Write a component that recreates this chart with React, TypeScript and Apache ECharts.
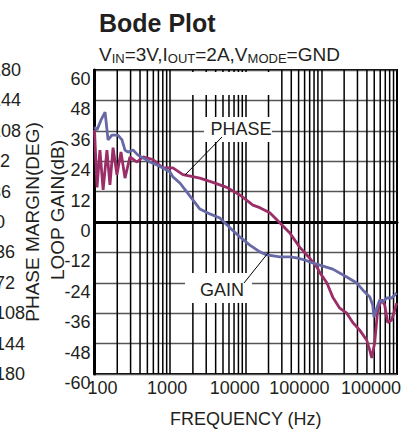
import React, { useEffect, useRef } from "react";
import * as echarts from "echarts";

// ---- tick labels ----
const FREQ_TICKS = [100, 1000, 10000, 100000, 1000000];
const FREQ_TICK_LABELS = ["100", "1000", "10000", "100000", "1000000"];
const PHASE_TICK_LABELS = ["180", "144", "108", "72", "36", "0", "-36", "-72", "-108", "-144", "-180"];
const MINOR_GRID_FREQS = [
  200, 300, 400, 500, 600, 700, 800, 900,
  2000, 3000, 4000, 5000, 6000, 7000, 8000, 9000,
  20000, 30000, 40000, 50000, 60000, 70000, 80000, 90000,
  200000, 300000, 400000, 500000, 600000, 700000, 800000, 900000,
];

// ---- series: loop gain (dB) ----
const GAIN_FREQ = [100, 108, 122, 138, 151, 170, 204, 231, 253, 277, 323, 376, 438, 541, 670, 804, 1000, 1089, 1346, 1667, 2000, 2476, 3357, 4550, 6170, 8360, 11330, 15350, 19000, 28200, 38300, 47300, 60400, 70300, 95300, 141500, 216700, 293800, 352500, 436500, 477800, 497000, 539500, 590600, 647000, 731000, 851000, 991000];
const GAIN_DB = [37.5, 36.3, 40.3, 43.4, 32.4, 34.3, 34.3, 32.4, 28.4, 27.6, 28.4, 26.4, 25.3, 23.7, 22.5, 21.3, 19.7, 17.8, 15.4, 11.8, 8.7, 5.1, 3.2, 1.6, -2.3, -5.9, -9.1, -11.8, -13.0, -13.8, -13.8, -14.2, -15.0, -15.8, -17.0, -18.6, -21.7, -24.1, -26.8, -29.6, -32.8, -37.5, -34.0, -30.8, -31.6, -30.0, -30.0, -28.0];

// ---- series: phase margin (deg) ----
const PHASE_FREQ = [100, 108, 118, 130, 146, 160, 176, 198, 224, 253, 294, 364, 438, 593, 804, 1089, 1476, 2476, 3672, 5620, 8360, 12420, 15350, 20800, 28200, 38300, 51900, 70300, 86900, 95300, 118000, 141500, 175000, 216700, 260000, 321500, 398000, 436500, 463500, 507000, 555500, 628000, 687000, 753000, 851000, 933000, 991000];
const PHASE_DEG = [109, 41, 85, 38, 85, 44, 88, 56, 83, 52, 77, 71, 77, 74, 64, 64, 56, 52, 47, 41, 32, 20, 17, 11, -1, -13, -30, -43, -53, -60, -72, -89, -102, -108, -119, -128, -140, -152, -161, -143, -104, -92, -98, -119, -116, -104, -96];

// ---- styling (label nudges, not data) ----
const FREQ_LABEL_PAD = [[0, 0, 0, 16], [0, 6, 0, 0], [0, 22, 0, 0], [0, 44, 0, 0], [0, 42, 0, 0]];
const PHASE_LABEL_RIGHT: Record<string, number> = {
  "180": 21, "144": 21, "108": 21, "72": 10, "36": 11, "0": 5,
  "-36": 15, "-72": 15, "-108": 25, "-144": 25, "-180": 25,
};

const INK = "#231f20";
const FONT = "'Liberation Sans', Arial, Helvetica, sans-serif";
const GAIN_COLOR = "#6669a6";
const PHASE_COLOR = "#9b2d68";

export default function App() {
  const ref = useRef<HTMLDivElement>(null);

  useEffect(() => {
    if (!ref.current) return;
    const chart = echarts.init(ref.current, undefined, { renderer: "svg" });

    const xRich: Record<string, any> = {};
    FREQ_TICK_LABELS.forEach((_, i) => {
      xRich["x" + i] = { fontSize: 18, color: INK, fontFamily: FONT, padding: FREQ_LABEL_PAD[i] };
    });
    const pRich: Record<string, any> = {};
    PHASE_TICK_LABELS.forEach((lab, i) => {
      pRich["p" + i] = { fontSize: 18, color: INK, fontFamily: FONT, padding: [0, 28 - PHASE_LABEL_RIGHT[lab], 0, 0] };
    });

    const option: any = {
      animation: false,
      backgroundColor: "#ffffff",
      textStyle: { fontFamily: FONT, color: INK },
      title: [
        {
          text: "Bode Plot",
          left: 94,
          top: 5,
          textStyle: { fontSize: 25, fontWeight: "bold", color: INK, fontFamily: FONT },
        },
        {
          text: "{n|V}{s|IN}{n|=3V,I}{s|OUT}{n|=2A,V}{s|MODE}{n|=GND}",
          left: 94,
          top: 40,
          textStyle: {
            fontWeight: "normal",
            rich: {
              n: { fontSize: 19, fontWeight: "normal", color: INK, fontFamily: FONT, verticalAlign: "top", lineHeight: 20 },
              s: { fontSize: 13, fontWeight: "normal", color: INK, fontFamily: FONT, verticalAlign: "bottom", lineHeight: 14, padding: [9, 0, 0, 0] },
            },
          },
        },
      ],
      grid: {
        left: 94.5, right: 4, top: 70, bottom: 56,
        containLabel: false, outerBoundsMode: "none",
        show: true, borderColor: "#000", borderWidth: 2, backgroundColor: "transparent",
      },
      xAxis: {
        type: "log",
        logBase: 10,
        min: 100,
        max: 1000000,
        name: "FREQUENCY (Hz)",
        nameLocation: "middle",
        nameGap: 36,
        nameMoveOverlap: false,
        nameTextStyle: { fontSize: 18, color: INK, fontFamily: FONT },
        axisLine: { show: true, lineStyle: { color: "#000", width: 3 } },
        axisTick: { show: false },
        splitLine: { show: true, lineStyle: { color: "#000", width: 1.5 } },
        axisLabel: {
          interval: 0,
          showMinLabel: true,
          showMaxLabel: true,
          margin: 5,
          formatter: (v: number) => {
            const i = FREQ_TICKS.findIndex((t) => Math.abs(Math.log10(t) - Math.log10(v)) < 1e-6);
            return i < 0 ? "" : `{x${i}|${FREQ_TICK_LABELS[i]}}`;
          },
          rich: xRich,
        },
      },
      yAxis: [
        {
          type: "value",
          min: -60,
          max: 60,
          interval: 12,
          position: "left",
          name: "LOOP GAIN(dB)",
          nameLocation: "middle",
          nameRotate: 90,
          nameGap: 28,
          nameMoveOverlap: false,
          nameTextStyle: { fontSize: 19, color: INK, fontFamily: FONT, padding: [0, 0, 0, 24] },
          axisLine: { show: true, lineStyle: { color: "#000", width: 3 } },
          axisTick: { show: false },
          splitLine: { show: true, lineStyle: { color: "#555", width: 1.4 } },
          axisLabel: { fontSize: 18, margin: 4, color: INK, fontFamily: FONT, verticalAlign: "top" },
        },
        {
          type: "value",
          min: -180,
          max: 180,
          interval: 36,
          position: "left",
          offset: 66.5,
          name: "PHASE MARGIN(DEG)",
          nameLocation: "middle",
          nameRotate: 90,
          nameGap: -14,
          nameMoveOverlap: false,
          nameTextStyle: { fontSize: 19, color: INK, fontFamily: FONT },
          axisLine: { show: false },
          axisTick: { show: false },
          splitLine: { show: false },
          axisLabel: {
            margin: 0,
            formatter: (v: number) => {
              const i = PHASE_TICK_LABELS.indexOf(String(Math.round(v)));
              return i < 0 ? "" : `{p${i}|${PHASE_TICK_LABELS[i]}}`;
            },
            rich: pRich,
          },
        },
      ],
      series: [
        {
          type: "custom",
          name: "minor grid",
          silent: true,
          z: 1,
          xAxisIndex: 0,
          yAxisIndex: 0,
          data: MINOR_GRID_FREQS.map((f) => [f]),
          renderItem: (params: any, api: any) => {
            const f = api.value(0);
            const top = api.coord([f, 60]);
            const bot = api.coord([f, -60]);
            return {
              type: "line",
              shape: { x1: top[0], y1: top[1], x2: bot[0], y2: bot[1] },
              style: { stroke: "#000", lineWidth: 1.5 },
            };
          },
        },
        {
          type: "line",
          name: "PHASE",
          yAxisIndex: 1,
          z: 5,
          symbol: "none",
          data: PHASE_FREQ.map((f, i) => [f, PHASE_DEG[i]]),
          lineStyle: { color: PHASE_COLOR, width: 2.8 },
        },
        {
          type: "line",
          name: "GAIN",
          yAxisIndex: 0,
          z: 6,
          symbol: "none",
          data: GAIN_FREQ.map((f, i) => [f, GAIN_DB[i]]),
          lineStyle: { color: GAIN_COLOR, width: 2.8 },
        },
      ],
      graphic: [
        { type: "rect", z: 50, shape: { x: 186, y: 72, width: 86, height: 23 }, style: { fill: "#fff" } },
        { type: "rect", z: 50, shape: { x: 204, y: 117, width: 68, height: 25 }, style: { fill: "#fff" } },
        { type: "rect", z: 50, shape: { x: 185, y: 273, width: 67, height: 30 }, style: { fill: "#fff" } },
        { type: "line", z: 51, shape: { x1: 222, y1: 137, x2: 185, y2: 175 }, style: { stroke: "#000", lineWidth: 1 } },
        { type: "line", z: 51, shape: { x1: 244, y1: 283, x2: 268, y2: 253 }, style: { stroke: "#000", lineWidth: 1 } },
        { type: "text", z: 52, x: 241, y: 129, style: { text: "PHASE", fontSize: 18, fontFamily: FONT, fill: INK, align: "center", verticalAlign: "middle" } },
        { type: "text", z: 52, x: 222, y: 290, style: { text: "GAIN", fontSize: 18, fontFamily: FONT, fill: INK, align: "center", verticalAlign: "middle" } },
      ],
    };

    chart.setOption(option);
    return () => chart.dispose();
  }, []);

  return (
    <div
      ref={ref}
      style={{ position: "absolute", left: 0, top: 0, width: 401, height: 430, background: "#fff" }}
    />
  );
}
